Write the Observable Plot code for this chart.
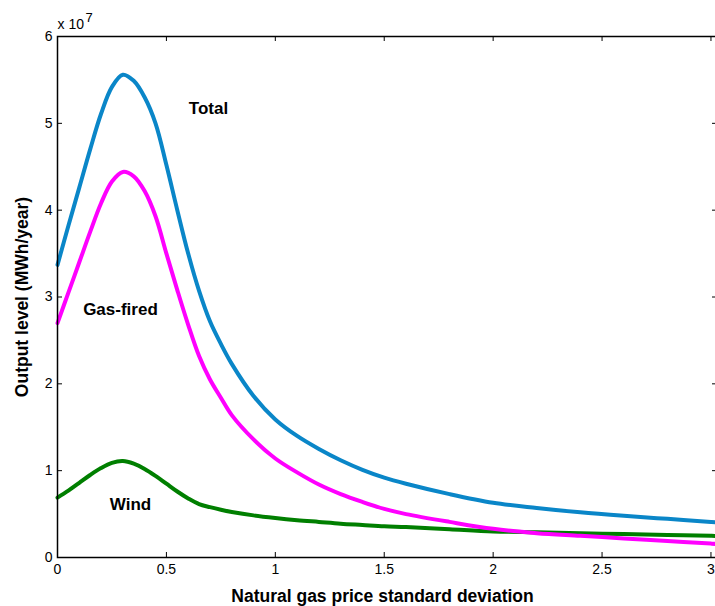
<!DOCTYPE html>
<html>
<head>
<meta charset="utf-8">
<script src="https://cdn.jsdelivr.net/npm/d3@7"></script>
<script src="https://cdn.jsdelivr.net/npm/@observablehq/plot@0.6"></script>
<style>
  html, body { margin: 0; padding: 0; background: #fff; overflow: hidden; }
  #chart svg { max-width: none !important; }
</style>
</head>
<body>
<div id="chart"></div>
<script>
// Natural gas price standard deviation (x)
const sigma = [0, 0.05, 0.1, 0.15, 0.2, 0.25, 0.3, 0.35, 0.4, 0.45, 0.5, 0.55, 0.6, 0.65, 0.7, 0.75, 0.8, 0.9, 1.0, 1.1, 1.2, 1.3, 1.4, 1.5, 1.6, 1.8, 2.0, 2.2, 2.4, 2.6, 2.8, 3.0, 3.03];
// Output level, in units of 10^7 MWh/year
const total    = [3.37, 3.82, 4.26, 4.70, 5.11, 5.42, 5.56, 5.49, 5.30, 5.00, 4.52, 4.00, 3.50, 3.07, 2.72, 2.46, 2.23, 1.86, 1.59, 1.40, 1.25, 1.12, 1.01, 0.92, 0.85, 0.73, 0.63, 0.57, 0.52, 0.48, 0.445, 0.41, 0.405];
const gasFired = [2.70, 3.05, 3.40, 3.75, 4.08, 4.33, 4.44, 4.39, 4.22, 3.93, 3.50, 3.08, 2.68, 2.32, 2.05, 1.84, 1.64, 1.36, 1.14, 0.98, 0.84, 0.73, 0.64, 0.56, 0.50, 0.41, 0.33, 0.28, 0.25, 0.22, 0.19, 0.16, 0.155];
const wind     = [0.69, 0.77, 0.86, 0.95, 1.03, 1.09, 1.11, 1.08, 1.02, 0.94, 0.85, 0.76, 0.68, 0.615, 0.58, 0.55, 0.525, 0.485, 0.455, 0.43, 0.41, 0.39, 0.375, 0.36, 0.35, 0.325, 0.30, 0.29, 0.28, 0.27, 0.26, 0.25, 0.248];

const xTicks = [0, 0.5, 1, 1.5, 2, 2.5, 3];
const xTickLabels = ["0", "0.5", "1", "1.5", "2", "2.5", "3"];
const yTicks = [0, 1, 2, 3, 4, 5, 6];
const yTickLabels = ["0", "1", "2", "3", "4", "5", "6"];
const xDomain = [0, 3.03];
const yDomain = [0, 6];

const seriesNames = ["Total", "Gas-fired", "Wind"];
const seriesColors = ["#0a86c8", "#ff00ff", "#007f00"];
// in-plot label anchors (data units)
const labelX = [0.693, 0.289, 0.335];
const labelY = [5.17, 2.85, 0.61];

const xLabel = "Natural gas price standard deviation";
const yLabel = "Output level (MWh/year)";
const exponentBase = "x 10";
const exponent = "7";

const seriesValues = [total, gasFired, wind];
const rows = [];
seriesNames.forEach((name, k) => {
  sigma.forEach((s, i) => rows.push({series: name, x: s, y: seriesValues[k][i]}));
});
const labels = seriesNames.map((name, k) => ({name, x: labelX[k], y: labelY[k]}));
const drawOrder = ["Total", "Wind", "Gas-fired"];

// The axes box runs slightly past the right edge of the 715px picture
const W = 718, H = 606;
const mL = 57, mR = 1, mT = 36, mB = 49;
const fw = W - mL - mR, fh = H - mT - mB;
const tickLen = 5;

const chart = Plot.plot({
  width: W,
  height: H,
  marginLeft: mL,
  marginRight: mR,
  marginTop: mT,
  marginBottom: mB,
  style: {fontFamily: "'Liberation Sans', Arial, Helvetica, sans-serif", background: "#fff", color: "#000", maxWidth: "none"},
  x: {domain: xDomain},
  y: {domain: yDomain},
  marks: [
    // tick labels
    Plot.axisX(xTicks, {anchor: "bottom", tickSize: 0, tickPadding: 7, fontSize: 14, tickFormat: (d, i) => xTickLabels[i], label: null}),
    Plot.axisY(yTicks, {anchor: "left", tickSize: 0, tickPadding: 5, fontSize: 14, tickFormat: (d, i) => yTickLabels[i], label: null}),
    // inward ticks (MATLAB style) on all four sides
    Plot.tickX(xTicks, {x: d => d, insetTop: fh - tickLen, stroke: "#000", strokeWidth: 1}),
    Plot.tickX(xTicks, {x: d => d, insetBottom: fh - tickLen, stroke: "#000", strokeWidth: 1}),
    Plot.tickY(yTicks, {y: d => d, insetRight: fw - tickLen, stroke: "#000", strokeWidth: 1}),
    Plot.tickY(yTicks, {y: d => d, insetLeft: fw - tickLen, stroke: "#000", strokeWidth: 1}),
    // series
    ...drawOrder.map(name => Plot.lineY(rows.filter(r => r.series === name), {
      x: "x", y: "y",
      stroke: seriesColors[seriesNames.indexOf(name)],
      strokeWidth: 4,
      curve: "catmull-rom"
    })),
    Plot.frame({stroke: "#000", strokeWidth: 1.5}),
    // series labels
    Plot.text(labels, {x: "x", y: "y", text: "name", fontWeight: "bold", fontSize: 17, fill: "#000", textAnchor: "middle", lineAnchor: "middle"}),
    // exponent
    Plot.text([exponentBase], {frameAnchor: "top-left", text: d => d, textAnchor: "start", lineAnchor: "middle", dy: -12, fontSize: 14, fill: "#000"}),
    Plot.text([exponent], {frameAnchor: "top-left", text: d => d, textAnchor: "start", lineAnchor: "middle", dx: 28, dy: -19, fontSize: 13, fill: "#000"}),
    // axis titles
    Plot.text([xLabel], {frameAnchor: "bottom-left", text: d => d, textAnchor: "middle", lineAnchor: "middle", dx: 325, dy: 39, fontWeight: "bold", fontSize: 17.5, fill: "#000"}),
    Plot.text([yLabel], {frameAnchor: "left", text: d => d, rotate: -90, lineAnchor: "middle", textAnchor: "middle", dx: -35, fontWeight: "bold", fontSize: 17.5, fill: "#000"})
  ]
});
document.getElementById("chart").appendChild(chart);
</script>
</body>
</html>
